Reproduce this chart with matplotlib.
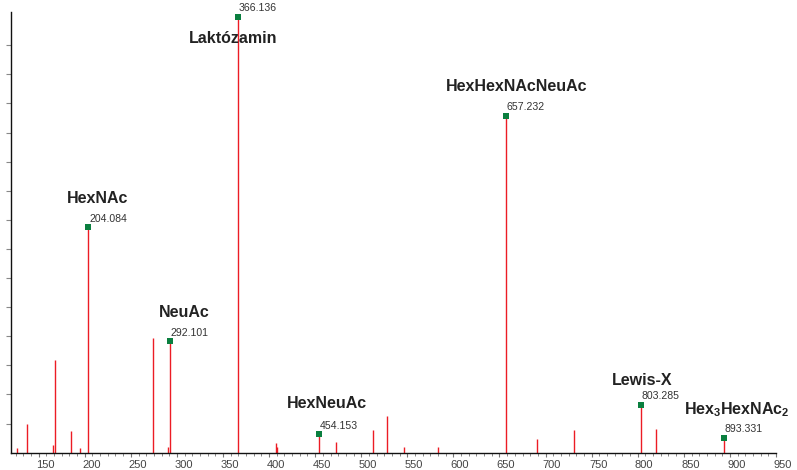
import numpy as np
import matplotlib.pyplot as plt
from matplotlib.ticker import MultipleLocator, NullFormatter
from matplotlib.transforms import ScaledTranslation

plt.rcParams["font.family"] = ["Liberation Sans", "DejaVu Sans"]
plt.rcParams["mathtext.fontset"] = "custom"
plt.rcParams["mathtext.rm"] = "Liberation Sans:bold"
plt.rcParams["mathtext.it"] = "Liberation Sans:bold"
plt.rcParams["mathtext.bf"] = "Liberation Sans:bold"

# Unannotated fragment peaks (m/z, relative intensity)
peak_mz = [126.0, 137.0, 166.1, 167.2, 185.6, 195.4, 273.6, 289.8,
           407.1, 408.1, 472.2, 512.3, 527.6, 546.0, 583.0, 690.8,
           730.5, 819.6]
peak_int = [0.16, 0.99, 0.26, 3.19, 0.76, 0.17, 3.94, 0.20,
            0.33, 0.20, 0.37, 0.78, 1.27, 0.20, 0.20, 0.47,
            0.78, 0.81]

# Annotated glycan oxonium ions
ion_mz = [204.084, 292.101, 366.136, 454.153, 657.232, 803.285, 893.331]
ion_int = [7.75, 3.83, 14.97, 0.63, 11.57, 1.64, 0.52]
ion_names = ["HexNAc", "NeuAc", "Laktózamin", "HexNeuAc", "HexHexNAcNeuAc",
             "Lewis-X", "Hex$_3$HexNAc$_2$"]
# name offsets from the marker, in pixels (dx, dy to baseline)
name_offsets = [(9.5, 24.6), (14.9, 24.5), (-4.3, -26.0), (8.0, 26.0),
                (10.5, 25.0), (1.2, 20.0), (13.4, 23.7)]

RED = "#ec1c24"
GREEN = "#0a7f3f"
PX = 72 / 100  # points per pixel at dpi 100

fig = plt.figure(figsize=(7.97, 4.70), dpi=100)
ax = fig.add_axes([11 / 797, 17.3 / 470, 765 / 797, 441 / 470])

ax.vlines(peak_mz, 0, peak_int, colors=RED, linewidth=1.0)
ax.vlines(ion_mz, 0, ion_int, colors=RED, linewidth=1.0)
ax.plot(ion_mz, ion_int, "s", color=GREEN, markersize=3.8,
        markeredgewidth=0, clip_on=False, zorder=3)

for mz, inten, name, (dx, dy) in zip(ion_mz, ion_int, ion_names, name_offsets):
    ax.annotate(f"{mz:.3f}", (mz, inten), xytext=(0.8 * PX, 5.6 * PX),
                textcoords="offset points", ha="left", va="baseline",
                fontsize=7.6, color="#333333")
    ax.annotate(name, (mz, inten), xytext=(dx * PX, dy * PX),
                textcoords="offset points", ha="center", va="baseline",
                fontsize=11.5, fontweight="bold", color="#222222")

ax.set_xlim(120, 950)
ax.set_ylim(0, 15.15)

ax.xaxis.set_major_locator(MultipleLocator(50))
ax.xaxis.set_minor_locator(MultipleLocator(50 / 6))
ax.yaxis.set_major_formatter(NullFormatter())
ax.set_yticks(np.arange(1, 15))

ax.tick_params(axis="x", which="major", length=2.6, width=0.8,
               color="#777777", labelsize=8, labelcolor="#444444", pad=3.0)
ax.tick_params(axis="x", which="minor", length=2.2, width=0.7, color="#888888")
ax.tick_params(axis="y", which="major", length=3.6, width=0.8,
               color="#888888", labelleft=False)

# tick labels sit a little to the right of their ticks
shift = ScaledTranslation(6.5 / 100, 0, fig.dpi_scale_trans)
for lbl in ax.get_xticklabels():
    lbl.set_transform(lbl.get_transform() + shift)

for side in ["top", "right"]:
    ax.spines[side].set_visible(False)
for side in ["left", "bottom"]:
    ax.spines[side].set_linewidth(1.0)
    ax.spines[side].set_color("#111111")

fig.savefig("out.png", dpi=100)
